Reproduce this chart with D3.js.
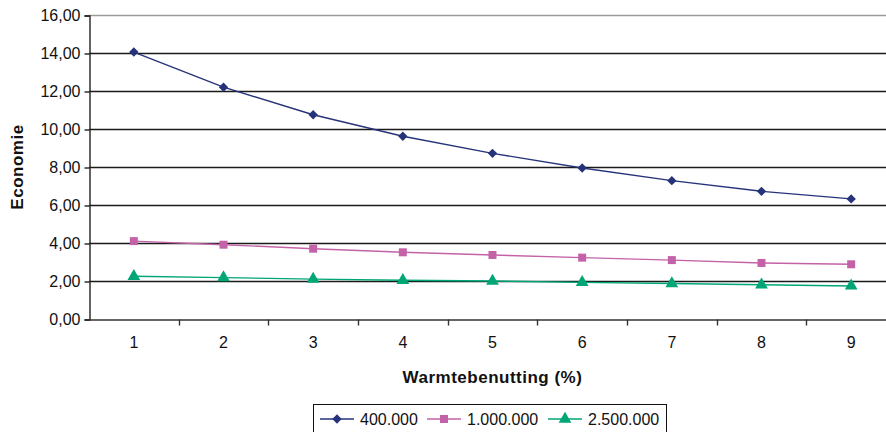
<!DOCTYPE html>
<html>
<head>
<meta charset="utf-8">
<script src="https://cdn.jsdelivr.net/npm/d3@7"></script>
<style>
  body { margin: 0; background: #fff; }
  svg { display: block; font-family: 'Liberation Sans', Arial, sans-serif; }
</style>
</head>
<body>
<main></main>
<script>
const categories = ['1', '2', '3', '4', '5', '6', '7', '8', '9'];
const yTicks = [0, 2, 4, 6, 8, 10, 12, 14, 16];
const seriesNames = ['400.000', '1.000.000', '2.500.000'];
const values400k = [14.05, 12.2, 10.75, 9.62, 8.72, 7.95, 7.28, 6.72, 6.32];
const values1m = [4.1, 3.91, 3.7, 3.51, 3.37, 3.23, 3.1, 2.95, 2.88];
const values2m5 = [2.25, 2.18, 2.1, 2.04, 2.0, 1.93, 1.87, 1.8, 1.74];

const series = [
  { name: seriesNames[0], values: values400k, color: '#26337a', symbol: d3.symbolSquare, size: 44, rotate: 45 },
  { name: seriesNames[1], values: values1m, color: '#c462a8', symbol: d3.symbolSquare, size: 64, rotate: 0 },
  { name: seriesNames[2], values: values2m5, color: '#00a676', symbol: d3.symbolTriangle, size: 70, rotate: 0 },
];

const dimensions = {
  width: 886,
  height: 432,
  margin: { top: 15, right: -10, bottom: 113, left: 89 },
};
dimensions.boundedWidth =
  dimensions.width - (dimensions.margin.left + dimensions.margin.right);
dimensions.boundedHeight =
  dimensions.height - (dimensions.margin.top + dimensions.margin.bottom);

const xScale = d3
  .scaleBand()
  .domain(categories)
  .range([0, dimensions.boundedWidth]);

const yScale = d3
  .scaleLinear()
  .domain([0, 16])
  .range([dimensions.boundedHeight, 0]);

const svg = d3
  .select('main')
  .append('svg')
  .attr('width', dimensions.width)
  .attr('height', dimensions.height);

const bounds = svg
  .append('g')
  .attr('transform', `translate(${dimensions.margin.left} ${dimensions.margin.top})`);

// gridlines
bounds
  .append('g')
  .selectAll('line')
  .data(yTicks.filter(d => d > 0))
  .join('line')
  .attr('x1', 0)
  .attr('x2', dimensions.boundedWidth)
  .attr('y1', d => Math.round(yScale(d)) + 0.5)
  .attr('y2', d => Math.round(yScale(d)) + 0.5)
  .attr('stroke', d => (d === 16 ? '#9a9a9a' : '#1a1a1a'))
  .attr('stroke-width', 1.4);

// y axis
const yAxis = d3
  .axisLeft(yScale)
  .tickValues(yTicks)
  .tickSize(5)
  .tickPadding(4)
  .tickFormat(d => d3.format('.2f')(d).replace('.', ','));

const yAxisGroup = bounds.append('g').attr('transform', 'translate(0.5 0.5)').call(yAxis);
yAxisGroup.select('.domain').attr('stroke', '#222').attr('stroke-width', 1.4);
yAxisGroup.selectAll('.tick line').attr('stroke', '#222').attr('stroke-width', 1.4);
yAxisGroup
  .selectAll('text')
  .attr('fill', '#111')
  .attr('font-size', 16);

// x axis
const xAxis = d3.axisBottom(xScale).tickSize(0).tickPadding(17);
const xAxisGroup = bounds
  .append('g')
  .attr('transform', `translate(0 ${dimensions.boundedHeight + 0.5})`)
  .call(xAxis);
xAxisGroup.select('.domain').attr('stroke', '#333').attr('stroke-width', 1.4);
xAxisGroup.selectAll('text').attr('fill', '#111').attr('font-size', 16);
xAxisGroup
  .selectAll('line.boundary')
  .data(categories.slice(1))
  .join('line')
  .attr('class', 'boundary')
  .attr('x1', d => Math.round(xScale(d)) + 0.5)
  .attr('x2', d => Math.round(xScale(d)) + 0.5)
  .attr('y1', 0)
  .attr('y2', 6)
  .attr('stroke', '#333')
  .attr('stroke-width', 1.4);

// axis titles
svg
  .append('text')
  .attr('x', dimensions.margin.left + 4.5 * xScale.bandwidth())
  .attr('y', 383)
  .attr('text-anchor', 'middle')
  .attr('font-size', 17)
  .attr('font-weight', 'bold')
  .attr('letter-spacing', 0.5)
  .attr('fill', '#111')
  .text('Warmtebenutting (%)');

svg
  .append('text')
  .attr('transform', `translate(23 ${dimensions.margin.top + yScale(8)}) rotate(-90)`)
  .attr('text-anchor', 'middle')
  .attr('font-size', 17)
  .attr('font-weight', 'bold')
  .attr('letter-spacing', 0.5)
  .attr('fill', '#111')
  .text('Economie');

// lines + markers
const cx = i => xScale(categories[i]) + xScale.bandwidth() / 2;
const line = d3
  .line()
  .x((d, i) => cx(i))
  .y(d => yScale(d));

series.forEach(s => {
  bounds
    .append('path')
    .attr('d', line(s.values))
    .attr('fill', 'none')
    .attr('stroke', s.color)
    .attr('stroke-width', 1.4);

  bounds
    .append('g')
    .selectAll('path')
    .data(s.values)
    .join('path')
    .attr('transform', (d, i) => `translate(${cx(i)} ${yScale(d)}) rotate(${s.rotate})`)
    .attr('d', d3.symbol(s.symbol, s.size))
    .attr('fill', s.color);
});

// legend
const legend = svg.append('g');
legend
  .append('rect')
  .attr('x', 313.5)
  .attr('y', 404.5)
  .attr('width', 353)
  .attr('height', 40)
  .attr('fill', '#fff')
  .attr('stroke', '#111')
  .attr('stroke-width', 1);

const legendX = [320, 427, 548];
series.forEach((s, i) => {
  const g = legend.append('g').attr('transform', `translate(${legendX[i]} 419)`);
  g.append('line')
    .attr('x1', 0)
    .attr('x2', 34)
    .attr('stroke', s.color)
    .attr('stroke-width', 1.4);
  g.append('path')
    .attr('transform', `translate(17 0) rotate(${s.rotate})`)
    .attr('d', d3.symbol(s.symbol, s.size))
    .attr('fill', s.color);
  g.append('text')
    .attr('x', 40)
    .attr('y', 6)
    .attr('font-size', 16)
    .attr('fill', '#111')
    .text(s.name);
});
</script>
</body>
</html>
